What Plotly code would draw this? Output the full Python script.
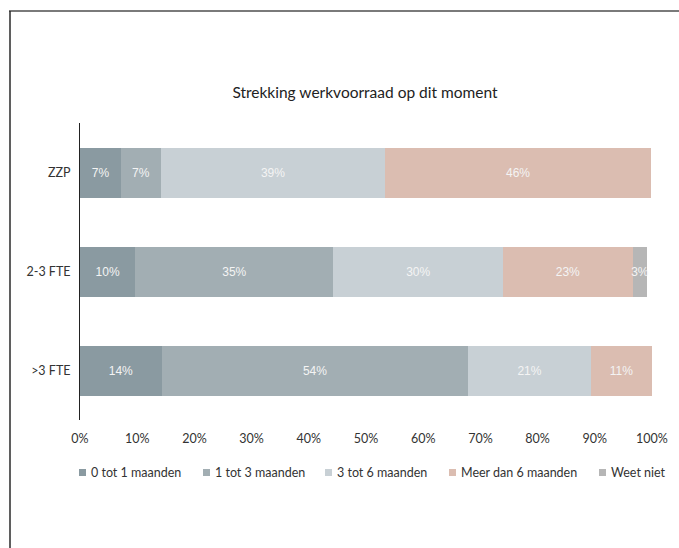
import plotly.graph_objects as go

# Categories (top to bottom) and stacked shares in percent
categories = ["ZZP", "2-3 FTE", ">3 FTE"]
series_names = ["0 tot 1 maanden", "1 tot 3 maanden", "3 tot 6 maanden",
                "Meer dan 6 maanden", "Weet niet"]
series_values = [
    [7.2, 9.7, 14.3],    # 0 tot 1 maanden
    [6.9, 34.6, 53.6],   # 1 tot 3 maanden
    [39.3, 29.7, 21.4],  # 3 tot 6 maanden
    [46.4, 22.6, 10.7],  # Meer dan 6 maanden
    [0.0, 2.6, 0.0],     # Weet niet
]
series_colors = ["#8a9aa1", "#a2aeb3", "#c8d0d5", "#dbbdb1", "#b6b6b6"]
tick_values = [0, 10, 20, 30, 40, 50, 60, 70, 80, 90, 100]
tick_labels = [f"{v}%" for v in tick_values]

W, H = 679, 548
L, R, T, B = 80, 27, 123, 128
pw, ph = W - L - R, H - T - B


def px(x):
    return (x - L) / pw


def py(y):
    return (H - B - y) / ph


label_font = "Lato, 'Open Sans', sans-serif"

fig = go.Figure()
for name, vals, col in zip(series_names, series_values, series_colors):
    texts = [f"{v:.0f}%" if v > 0 else "" for v in vals]
    fig.add_trace(go.Bar(
        name=name,
        y=categories,
        x=vals,
        orientation="h",
        marker=dict(color=col, line=dict(width=0)),
        text=texts,
        textposition="inside",
        insidetextanchor="middle",
        textangle=0,
        constraintext="none",
        textfont=dict(family="'Liberation Sans', Arial, sans-serif",
                      size=12, color="#f4f4f4"),
        hoverinfo="x+y+name",
        showlegend=False,
    ))

# Legend drawn as small squares with labels in one row under the axis
legend_x = [79, 203, 325, 449, 599]
legend_y = 472.5
shapes = [
    dict(type="line", xref="paper", yref="paper",
         x0=px(9), x1=px(680), y0=py(11), y1=py(11),
         line=dict(color="#7a7a7a", width=2)),
    dict(type="line", xref="paper", yref="paper",
         x0=px(10), x1=px(10), y0=py(11), y1=py(549),
         line=dict(color="#2a2a2a", width=1.5)),
]
annotations = []
for name, col, lx in zip(series_names, series_colors, legend_x):
    shapes.append(dict(type="rect", xref="paper", yref="paper",
                       x0=px(lx), x1=px(lx + 7),
                       y0=py(legend_y - 3.5), y1=py(legend_y + 3.5),
                       fillcolor=col, line=dict(width=0)))
    annotations.append(dict(text=name, xref="paper", yref="paper",
                            x=px(lx + 10.5), y=py(legend_y),
                            xanchor="left", yanchor="middle",
                            showarrow=False, borderpad=0,
                            font=dict(family=label_font, size=12.5,
                                      color="#333333")))

fig.update_layout(
    width=W, height=H,
    margin=dict(l=L, r=R, t=T, b=B),
    paper_bgcolor="white",
    plot_bgcolor="white",
    barmode="stack",
    bargap=0.495,
    uniformtext=dict(minsize=12, mode="show"),
    title=dict(text="Strekking werkvoorraad op dit moment",
               x=px(365), xanchor="center", xref="paper",
               y=1 - 93 / H, yanchor="middle",
               font=dict(family=label_font, size=15.5, color="#222222")),
    font=dict(family=label_font, size=12.5, color="#333333"),
    xaxis=dict(range=[0, 100], tickvals=tick_values, ticktext=tick_labels,
               showgrid=False, zeroline=False, showline=False,
               ticks="outside", ticklen=7, tickcolor="rgba(0,0,0,0)",
               tickfont=dict(family=label_font, size=12.5, color="#333333"),
               fixedrange=True),
    yaxis=dict(autorange="reversed", showgrid=False, zeroline=False,
               showline=True, linecolor="#222222", linewidth=1,
               ticks="outside", ticklen=6, tickcolor="rgba(0,0,0,0)",
               tickfont=dict(family=label_font, size=12.5, color="#333333"),
               fixedrange=True),
    showlegend=False,
    shapes=shapes,
    annotations=annotations,
)

fig.write_html("out.html")
